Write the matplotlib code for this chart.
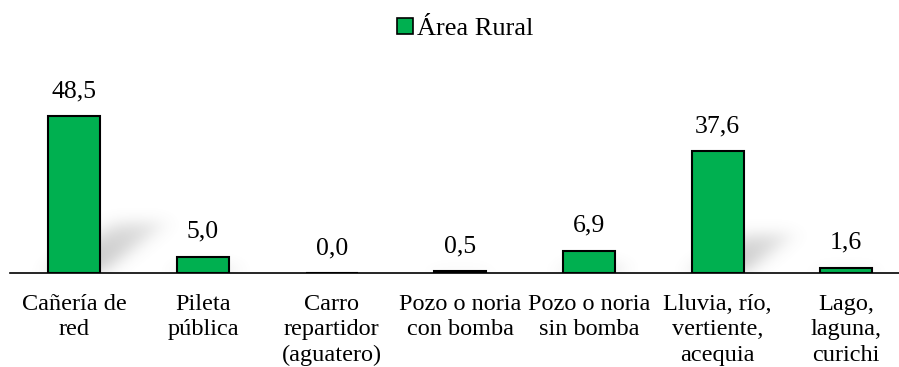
import numpy as np
import matplotlib
matplotlib.use("Agg")
import matplotlib.pyplot as plt
from matplotlib.patches import Patch

plt.rcParams['font.family'] = ['Liberation Serif', 'DejaVu Serif']

categories = [
    "Cañería de\nred",
    "Pileta\npública",
    "Carro\nrepartidor\n(aguatero)",
    "Pozo o noria\ncon bomba",
    "Pozo o noria\nsin bomba",
    "Lluvia, río,\nvertiente,\nacequia",
    "Lago,\nlaguna,\ncurichi",
]
values = [48.5, 5.0, 0.0, 0.5, 6.9, 37.6, 1.6]
value_labels = ["48,5", "5,0", "0,0", "0,5", "6,9", "37,6", "1,6"]
series_name = "Área Rural"

W, H = 899, 367
fig = plt.figure(figsize=(W / 100, H / 100), dpi=100)
ax_left, ax_right = 10, 899
ax_bottom, ax_top = 273, 60
ax = fig.add_axes([ax_left / W, 1 - ax_bottom / H,
                   (ax_right - ax_left) / W, (ax_bottom - ax_top) / H])

xlim = (-0.5, 6.41)
ylim = (0, 65.8)
ax.set_xlim(*xlim)
ax.set_ylim(*ylim)

green = "#00B050"
bar_w = 0.404
x = np.arange(len(values))

# soft drop shadows to the right of each bar base
nx, ny = 900, 220
gx = np.linspace(xlim[0], xlim[1], nx)
gy = np.linspace(ylim[0], ylim[1], ny)
XX, YY = np.meshgrid(gx, gy)
mask = np.zeros_like(XX)
for xi, v in zip(x, values):
    hs = 0.33 * v
    if hs <= 0:
        continue
    skew = 0.5 / 15.5
    shift = YY * skew
    inside = (YY >= 0) & (YY <= hs) & (XX >= xi - bar_w / 2 + shift) & (XX <= xi + bar_w / 2 + shift)
    fade = np.clip(1 - YY / max(hs, 1e-6), 0, 1) ** 0.3
    mask = np.maximum(mask, inside * fade)

def blur(a, sigma, axis):
    r = int(3 * sigma)
    k = np.exp(-0.5 * (np.arange(-r, r + 1) / sigma) ** 2)
    k /= k.sum()
    return np.apply_along_axis(lambda m: np.convolve(m, k, mode="same"), axis, a)

mask = blur(mask, 10, 1)
mask = blur(mask, 7, 0)
rgba = np.zeros((ny, nx, 4))
rgba[..., :3] = 0.5
rgba[..., 3] = np.clip(mask * 0.45, 0, 1)
ax.imshow(rgba, extent=(xlim[0], xlim[1], ylim[0], ylim[1]), origin="lower",
          aspect="auto", zorder=1, interpolation="bilinear")

bars = ax.bar(x, values, width=bar_w, color=green, edgecolor="black",
              linewidth=1.5, zorder=3)

for xi, v, lab in zip(x, values, value_labels):
    ax.annotate(lab, (xi, v), xytext=(0, 10), textcoords="offset points",
                ha="center", va="bottom", fontsize=18.5, zorder=4)

ax.set_xticks(x)
ax.set_xticklabels(categories, fontsize=17.5, linespacing=1.28)
ax.tick_params(axis="x", length=0, pad=15)
ax.set_yticks([])
for s in ["top", "right", "left"]:
    ax.spines[s].set_visible(False)
ax.spines["bottom"].set_linewidth(1.2)
ax.spines["bottom"].set_zorder(5)
ax.set_facecolor("none")

fig.legend(handles=[Patch(facecolor=green, edgecolor="black", linewidth=1.2, label=series_name)],
           loc="center", bbox_to_anchor=(465 / W, 1 - 29 / H), frameon=False,
           fontsize=19, handlelength=0.6, handleheight=0.6, handletextpad=0.15)

fig.savefig("out.png", dpi=100)
